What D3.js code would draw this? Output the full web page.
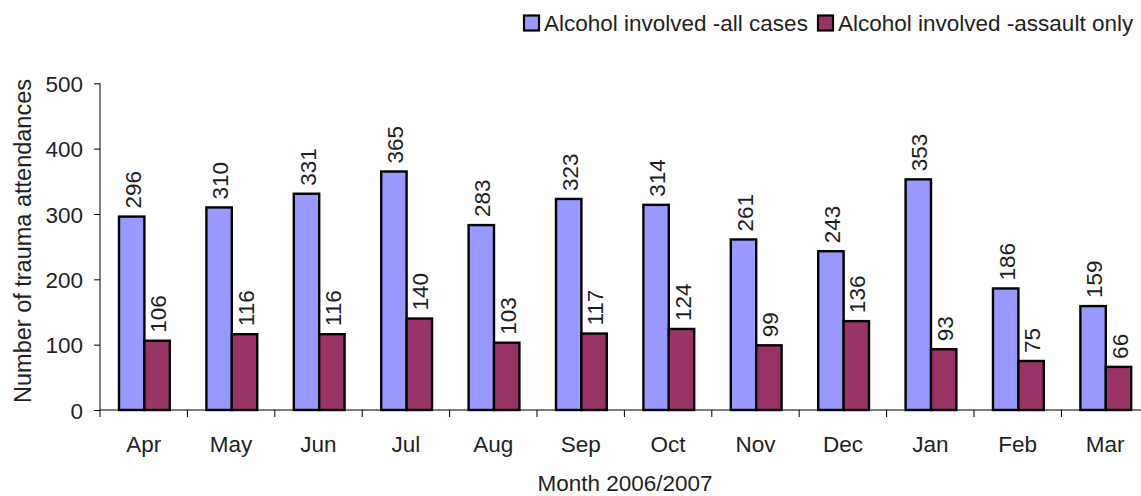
<!DOCTYPE html>
<html><head><meta charset="utf-8">
<script src="https://cdn.jsdelivr.net/npm/d3@7"></script>
<style>body{margin:0;background:#fff}text{font-family:"Liberation Sans",Arial,sans-serif;fill:#1f1f1f}</style>
</head><body><svg id="c" width="1141" height="496"></svg>
<script>
const months = ["Apr","May","Jun","Jul","Aug","Sep","Oct","Nov","Dec","Jan","Feb","Mar"];
const allCases = [296,310,331,365,283,323,314,261,243,353,186,159];
const assaultOnly = [106,116,116,140,103,117,124,99,136,93,75,66];
const seriesNames = ["Alcohol involved -all cases","Alcohol involved -assault only"];
const yTicks = [0,100,200,300,400,500];
const colors = ["#9999FF","#993366"];
const FS = "22.5px";

const svg = d3.select("#c");
const x0 = d3.scaleBand().domain(months).range([100, 100 + 12*87.4]);
const x1 = d3.scaleBand().domain([0,1]).range([19, 19 + 2*25.4]);
const y = d3.scaleLinear().domain([0,500]).range([410, 83.3]);

// y axis
const ya = svg.append("g").attr("transform","translate(100,0)")
  .call(d3.axisLeft(y).tickValues(yTicks).tickSize(6).tickPadding(11));
ya.selectAll("text").style("font-size",FS).attr("dy","0.36em");
ya.select(".domain").attr("stroke","#000").attr("stroke-width",1).attr("d","M0,83.3V410");
ya.selectAll(".tick line").attr("stroke","#000");

// x axis
const xa = svg.append("g").attr("transform","translate(0,410)")
  .call(d3.axisBottom(x0).tickSize(0).tickPadding(26));
xa.selectAll("text").style("font-size",FS);
xa.select(".domain").attr("stroke","#000").attr("stroke-width",1).attr("d",`M100,0H${100+12*87.4}`);
xa.selectAll(".bt").data(d3.range(0,13)).enter().append("line")
  .attr("x1",i=>100+i*87.4).attr("x2",i=>100+i*87.4).attr("y1",0).attr("y2",7).attr("stroke","#000");

const data = months.map((m,i)=>({m, v:[allCases[i], assaultOnly[i]]}));
const g = svg.append("g");
const grp = g.selectAll("g.grp").data(data).enter().append("g")
  .attr("transform",d=>`translate(${x0(d.m)},0)`);
grp.selectAll("rect").data(d=>d.v.map((v,k)=>({v,k}))).enter().append("rect")
  .attr("x",d=>x1(d.k)).attr("width",x1.bandwidth())
  .attr("y",d=>y(d.v)).attr("height",d=>410-y(d.v))
  .attr("fill",d=>colors[d.k]).attr("stroke","#000").attr("stroke-width",2.4);
grp.selectAll("text.lbl").data(d=>d.v.map((v,k)=>({v,k}))).enter().append("text")
  .attr("class","lbl")
  .attr("transform",d=>`translate(${x1(d.k)+x1.bandwidth()/2+9},${y(d.v)-8}) rotate(-90)`)
  .style("font-size",FS).text(d=>d.v);

// axis titles
svg.append("text").attr("transform","translate(31,241) rotate(-90)").attr("text-anchor","middle")
  .style("font-size","23.5px").text("Number of trauma attendances");
svg.append("text").attr("x",625).attr("y",491).attr("text-anchor","middle")
  .style("font-size",FS).text("Month 2006/2007");

// legend
const lg = svg.append("g");
const lx = [524, 818];
seriesNames.forEach((n,k)=>{
  lg.append("rect").attr("x",lx[k]).attr("y",15.5).attr("width",15).attr("height",15)
    .attr("fill",colors[k]).attr("stroke","#000").attr("stroke-width",2.2);
  lg.append("text").attr("x",lx[k]+20).attr("y",31).style("font-size",FS).text(n);
});
</script></body></html>
